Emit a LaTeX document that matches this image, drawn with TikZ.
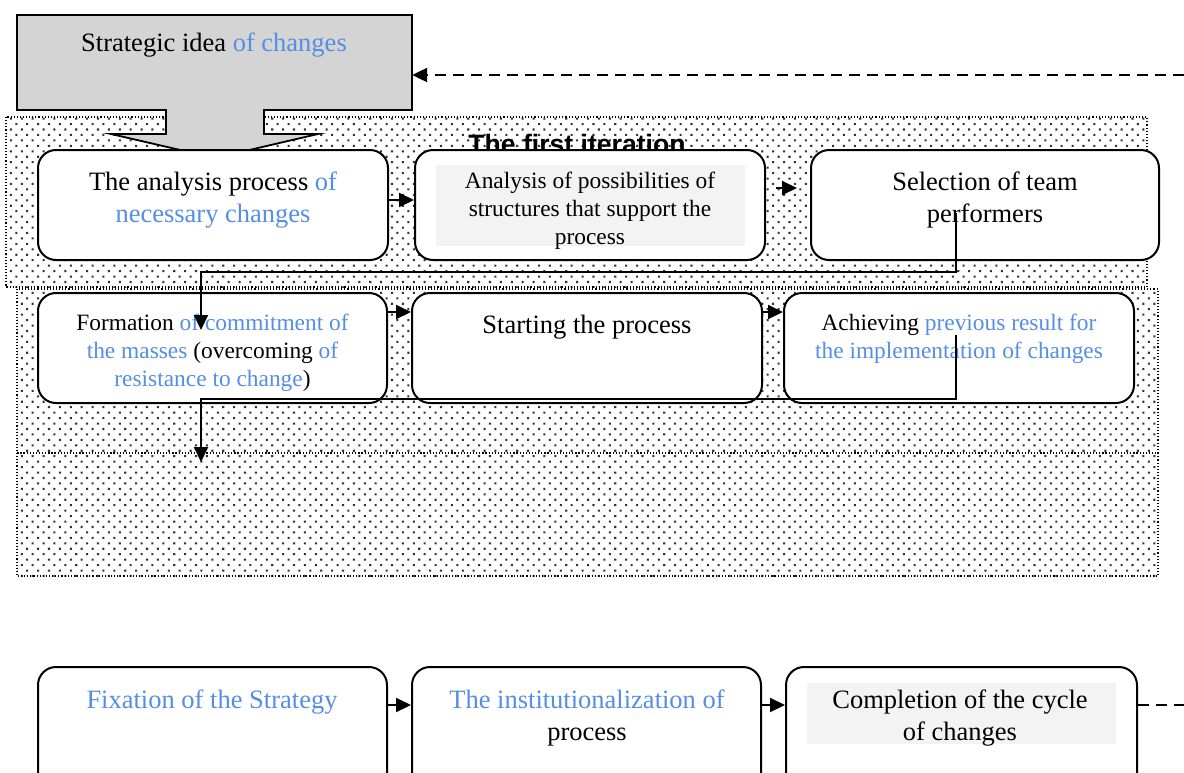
\documentclass[tikz,border=0pt]{standalone}
\usepackage{fontspec}
\setmainfont{Liberation Serif}
\newfontfamily\titlefont{Liberation Sans}
\usetikzlibrary{patterns.meta,arrows.meta,calc}
\definecolor{lblue}{RGB}{85,142,230}
\definecolor{ideagray}{RGB}{212,212,212}
\definecolor{panelgray}{RGB}{243,243,243}
\newcommand\bigtxt{\fontsize{26.5}{32}\selectfont}
\newcommand\smtxt{\fontsize{23.4}{28}\selectfont}
\begin{document}
\begin{tikzpicture}[x=1pt,y=-1pt,
  region/.style={pattern={Dots[distance=7.7pt,angle=45,radius=1.45pt]},pattern color=black!80,draw=black,dotted,line width=1.1pt},
  box/.style={draw,line width=2pt,rounded corners=18pt,fill=white,inner sep=0pt,minimum height=110pt},
  panel/.style={fill=panelgray,inner sep=0pt},
  txt/.style={inner sep=0pt,align=center},
  arr/.style={line width=2pt,-{Triangle[length=15pt,width=14pt]}},
  dashline/.style={line width=2.2pt,dash pattern=on 11pt off 7pt},
  ]
\useasboundingbox (0,0) rectangle (1184,772);
\clip (0,0) rectangle (1184,772);
\fill[white] (0,0) rectangle (1184,772);

% dotted regions
\path[region] (6,117) rectangle (1147,287);
\path[region] (17,289) rectangle (1158,453);
\path[region] (17,453) rectangle (1158,576);

\node[txt,anchor=base,font=\titlefont\bfseries\fontsize{26.6}{30}\selectfont] (iter) at (577,153) {The first iteration};

% strategic idea callout
\filldraw[fill=ideagray,line width=1.8pt] (17,15) -- (412,15) -- (412,110) -- (264,110) -- (264,134) -- (318,134) -- (215,158) -- (111,134) -- (166,134) -- (166,110) -- (17,110) -- cycle;
\node[inner sep=0pt,minimum width=395pt,minimum height=95pt] (idea) at (214.5,62.5) {};
\node[txt,anchor=base,font=\bigtxt] (ideat) at (214,51) {Strategic idea \textcolor{lblue}{of changes}};

% row 1
\node[box,minimum width=350pt] (a1) at (213,205) {};
\node[box,minimum width=350pt] (a2) at (590,205) {};
\node[box,minimum width=348pt] (a3) at (985,205) {};
\node[panel,minimum width=309pt,minimum height=81pt] (a2p) at (590.5,205.5) {};
\node[txt,anchor=north,font=\bigtxt] (a1t) at (213,172) {The analysis process \textcolor{lblue}{of}\\\textcolor{lblue}{necessary changes}};
\node[txt,anchor=north,font=\smtxt] (a2t) at (590,172) {Analysis of possibilities of\\structures that support the\\process};
\node[txt,anchor=north,font=\bigtxt] (a3t) at (985,172) {Selection of team\\performers};

% row 2
\node[box,minimum width=349pt] (b1) at (212.5,348) {};
\node[box,minimum width=350pt] (b2) at (587,348) {};
\node[box,minimum width=350pt] (b3) at (959,348) {};
\node[txt,anchor=north,font=\smtxt] (b1t) at (212.5,314) {Formation \textcolor{lblue}{of commitment of}\\\textcolor{lblue}{the masses} (overcoming \textcolor{lblue}{of}\\\textcolor{lblue}{resistance to change})};
\node[txt,anchor=base,font=\bigtxt] (b2t) at (587,333) {Starting the process};
\node[txt,anchor=north,font=\smtxt] (b3t) at (959,314) {Achieving \textcolor{lblue}{previous result for}\\\textcolor{lblue}{the implementation of changes}};

% row 3
\node[box,minimum width=349pt,minimum height=150pt] (c1) at (212.5,742) {};
\node[box,minimum width=349pt,minimum height=150pt] (c2) at (586.5,742) {};
\node[box,minimum width=351pt,minimum height=150pt] (c3) at (961.5,742) {};
\node[panel,minimum width=309pt,minimum height=61pt] (c3p) at (961.5,713.5) {};
\node[txt,anchor=base,font=\bigtxt,text=lblue] (c1t) at (212,708) {Fixation of the Strategy};
\node[txt,anchor=north,font=\bigtxt] (c2t) at (587,690) {\textcolor{lblue}{The institutionalization of}\\process};
\node[txt,anchor=north,font=\bigtxt] (c3t) at (960,690) {Completion of the cycle\\of changes};

% arrows between boxes
\draw[arr] ([yshift=5pt]a1.east) -- ([yshift=5pt]a2.west);
\draw[arr,shorten <=10pt,shorten >=13pt] ([yshift=17pt]a2.east) -- ([yshift=17pt]a3.west);
\draw[arr] ([yshift=36pt]b1.east) -- ([yshift=36pt]b2.west);
\draw[arr] ([yshift=36pt]b2.east) -- ([yshift=36pt]b3.west);
\draw[arr] ([yshift=37pt]c1.east) -- ([yshift=37pt]c2.west);
\draw[arr] ([yshift=37pt]c2.east) -- ([yshift=37pt]c3.west);

% elbow connectors
\coordinate (s1) at (956,213);
\coordinate (e1) at (201,330);
\draw[arr] (s1) -- ++(0,59) -| (e1);
\coordinate (s2) at (956,335);
\coordinate (e2) at (201,462);
\draw[arr] (s2) -- ++(0,64) -| (e2);

% dashed feedback lines
\coordinate (dashin) at (1184,75);
\draw[dashline,-{Triangle[length=15pt,width=14pt]}] (dashin) -- (idea.east |- dashin);
\coordinate (dashout) at (1184,705);
\draw[dashline] ([yshift=37pt]c3.east) -- (dashout);
\end{tikzpicture}
\end{document}
